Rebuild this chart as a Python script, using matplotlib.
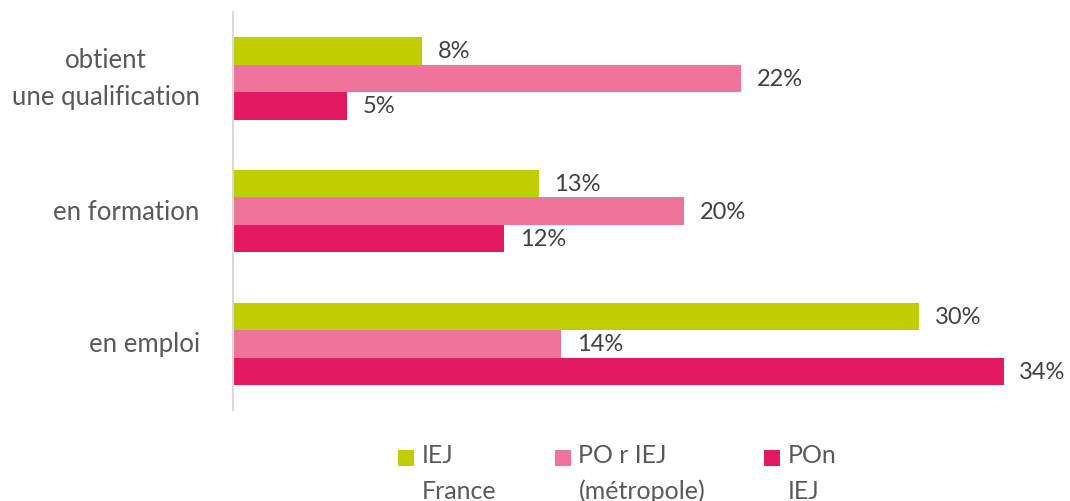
import matplotlib
matplotlib.use("Agg")
from matplotlib import pyplot as plt
from matplotlib.patches import Rectangle
from matplotlib.legend_handler import HandlerPatch

# data (percent)
categories = ["obtient\nune qualification", "en formation", "en emploi"]
series_names = ["IEJ\nFrance", "PO r IEJ\n(métropole)", "POn\nIEJ"]
iej_france = [8.3, 13.4, 30.1]
po_r_iej = [22.3, 19.8, 14.4]
pon_iej = [5.0, 11.9, 33.8]

colors = ["#BFCE00", "#F0739B", "#E31A5F"]
label_color = "#595959"
value_color = "#404040"

plt.rcParams["font.family"] = ["Lato", "DejaVu Sans"]


def top_square(legend, orig_handle, xdescent, ydescent, width, height, fontsize):
    # put the legend square next to the first line of the label
    return Rectangle((-xdescent, -ydescent + 0.61 * fontsize), width, height)


fig = plt.figure(figsize=(10.7, 5.02), dpi=100)
ax = fig.add_axes([0.2178, 0.181, 0.7671, 0.793])

bar_h = 0.207
all_series = [iej_france, po_r_iej, pon_iej]
handles = []
for j, values in enumerate(all_series):
    ypos = [i + (j - 1) * bar_h for i in range(len(categories))]
    bars = ax.barh(ypos, values, height=bar_h, color=colors[j],
                   label=series_names[j])
    handles.append(bars.patches[0])
    for b, v in zip(bars, values):
        ax.annotate(f"{round(v):d}%", (b.get_width(), b.get_y() + b.get_height() / 2),
                    xytext=(11, 0), textcoords="offset points",
                    ha="left", va="center", fontsize=17, color=value_color,
                    annotation_clip=False)

ax.set_xlim(0, 36)
ax.set_ylim(2.5, -0.5)
ax.set_yticks(range(len(categories)))
ax.set_yticklabels(categories, fontsize=18.5, color=label_color)
for lbl in ax.get_yticklabels():
    lbl.set_multialignment("center")
    lbl.set_linespacing(1.6)
    lbl.set_verticalalignment("center")
ax.tick_params(axis="y", length=0, pad=24)
ax.set_xticks([])
for side in ["top", "right", "bottom"]:
    ax.spines[side].set_visible(False)
ax.spines["left"].set_color("#D9D9D9")
ax.spines["left"].set_linewidth(1.5)

leg = fig.legend(handles=handles, labels=series_names, loc="upper left",
                 bbox_to_anchor=(398 / 1070, 1 - 444 / 502), ncol=3,
                 frameon=False, fontsize=18, borderpad=0, borderaxespad=0,
                 handlelength=0.64, handleheight=0.64, handletextpad=0.3,
                 columnspacing=2.35,
                 handler_map={h: HandlerPatch(patch_func=top_square) for h in handles})
for t in leg.get_texts():
    t.set_color(label_color)
    t.set_linespacing(1.65)

fig.savefig("out.png", dpi=100)
